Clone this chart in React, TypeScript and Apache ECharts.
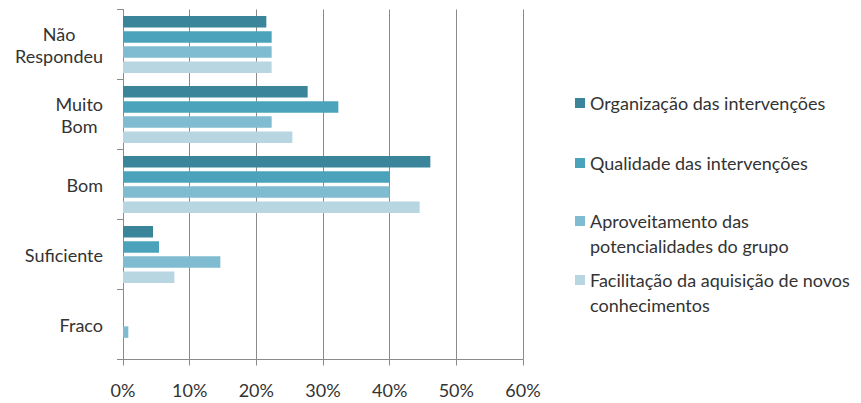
import React, { useEffect, useRef } from "react";
import * as echarts from "echarts";

const categories = ["Fraco", "Suficiente", "Bom", "Muito Bom", "Não Respondeu"];
const seriesNames = [
  "Organização das intervenções",
  "Qualidade das intervenções",
  "Aproveitamento das potencialidades do grupo",
  "Facilitação da aquisição de novos conhecimentos",
];
const legendLabels = [
  "Organização das intervenções",
  "Qualidade das intervenções",
  "\nAproveitamento das\npotencialidades do grupo",
  "\nFacilitação da aquisição de novos\nconhecimentos",
];
const organizacao = [0, 4.5, 46.1, 27.7, 21.5];
const qualidade = [0, 5.4, 40.0, 32.3, 22.3];
const aproveitamento = [0.8, 14.6, 40.0, 22.3, 22.3];
const facilitacao = [0, 7.7, 44.5, 25.4, 22.3];
const xTicks = [0, 10, 20, 30, 40, 50, 60];

const colors = ["#3A8599", "#4AA3BB", "#7FBCD1", "#B7D6E1"];
const seriesData = [organizacao, qualidade, aproveitamento, facilitacao];
const legendTops = [85.5, 145.5, 178.5, 237.5];

const FONT = "Lato";
const TEXT = "#333333";
const AXIS = "#8A8A8A";

export default function App() {
  const ref = useRef<HTMLDivElement>(null);
  useEffect(() => {
    if (!ref.current) return;
    const chart = echarts.init(ref.current, null, { renderer: "svg" });
    const yLabelText: Record<string, string> = {
      "Não Respondeu": "{c|Não}\n{c|Respondeu}",
      "Muito Bom": "{c|Muito}\n{c|Bom}",
    };
    chart.setOption({
      animation: false,
      textStyle: { fontFamily: FONT },
      grid: { left: 123, right: 338, top: 9.5, bottom: 43.5 },
      xAxis: {
        type: "value",
        min: xTicks[0],
        max: xTicks[xTicks.length - 1],
        interval: 10,
        axisLine: { show: true, lineStyle: { color: AXIS } },
        axisTick: { show: true, length: 6, lineStyle: { color: AXIS } },
        splitLine: { show: true, lineStyle: { color: AXIS } },
        axisLabel: {
          formatter: (v: number) => v + "%",
          color: TEXT,
          fontSize: 18,
          fontFamily: FONT,
          margin: 21,
        },
      },
      yAxis: {
        type: "category",
        data: categories,
        axisLine: { show: true, lineStyle: { color: AXIS } },
        axisTick: { show: true, length: 6, lineStyle: { color: AXIS } },
        axisLabel: {
          color: TEXT,
          fontSize: 18,
          fontFamily: FONT,
          margin: 20,
          lineHeight: 22,
          formatter: (v: string) => yLabelText[v] || v,
          rich: {
            c: { align: "center", fontSize: 18, fontFamily: FONT, color: TEXT, lineHeight: 22 },
          },
        },
      },
      legend: legendLabels.map((label, i) => ({
        data: [seriesNames[i]],
        left: 570,
        top: legendTops[i],
        orient: "vertical",
        itemWidth: 10,
        itemHeight: 10,
        itemGap: 0,
        itemTextGap: 7,
        icon: "rect",
        formatter: () => label,
        textStyle: {
          color: TEXT,
          fontSize: 18,
          fontFamily: FONT,
          lineHeight: 25,
        },
      })),
      series: seriesNames.map((name, i) => ({
        name,
        type: "bar",
        data: seriesData[i],
        barWidth: 11.5,
        barGap: "32%",
        itemStyle: { color: colors[i] },
      })),
    });
    return () => chart.dispose();
  }, []);
  return (
    <div
      ref={ref}
      style={{ position: "absolute", left: 0, top: 0, width: 861, height: 403 }}
    />
  );
}
